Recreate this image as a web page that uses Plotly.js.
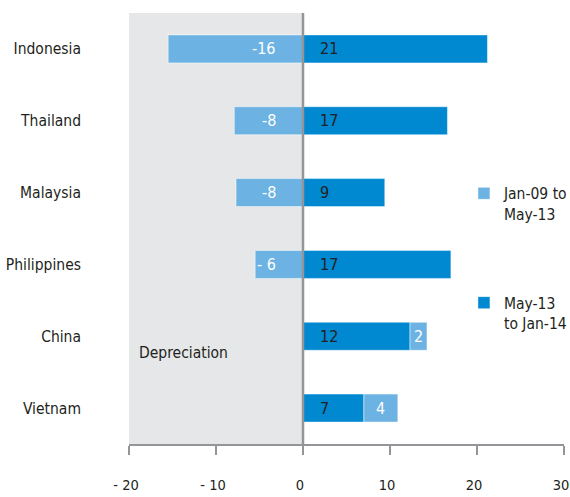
<!DOCTYPE html>
<html><head><meta charset="utf-8">
<script src="https://cdn.plot.ly/plotly-3.0.1.min.js"></script>
<style>html,body{margin:0;padding:0;background:#fff}#chart{width:570px;height:497px}</style>
</head><body><div id="chart"></div>
<script>
const countries = ["Indonesia","Thailand","Malaysia","Philippines","China","Vietnam"];
const lightVals = [-15.5,-7.9,-7.7,-5.5,1.95,3.9];
const darkVals = [21.2,16.6,9.4,17.0,12.3,7.0];
const lightLabels = ["-16","-8","-8","- 6","2","4"];
const darkLabels = ["21","17","9","17","12","7"];
const lightName = "Jan-09 to<br>May-13";
const darkName = "May-13<br>to Jan-14";
const xTickVals = [-20,-10,0,10,20,30];
const xTickText = ["- 20","- 10","0","10","20","30"];
const shadeRange = [-20, 0];

const FONT = "DejaVu Sans Condensed, Liberation Sans Narrow, sans-serif";
const FS = 15.5;
const TXT = "#231F20";
const LIGHT = "#6CB2E2";
const DARK = "#0088D1";
const AX = "#939598";

const traces = [
  {type:"bar", orientation:"h", name:darkName, legendgroup:"b", legendrank:2, y:countries, x:darkVals,
   marker:{color:DARK, line:{color:"rgba(255,255,255,0.45)", width:1}}, hoverinfo:"x+y"},
  {type:"bar", orientation:"h", name:lightName, legendgroup:"a", legendrank:1, y:countries, x:lightVals,
   marker:{color:LIGHT, line:{color:"rgba(255,255,255,0.5)", width:1}}, hoverinfo:"x+y"}
];

const annotations = [];
countries.forEach((c,i)=>{
  annotations.push({x:0, y:c, xref:"x", yref:"y", text:darkLabels[i], showarrow:false,
    xanchor:"left", xshift:15, font:{family:FONT, size:FS+0.5, color:TXT}});
  if (lightVals[i] < 0) {
    annotations.push({x:0, y:c, xref:"x", yref:"y", text:lightLabels[i], showarrow:false,
      xanchor:"right", xshift:-25, font:{family:FONT, size:FS+0.5, color:"#ffffff"}});
  } else {
    annotations.push({x:darkVals[i] + lightVals[i]/2, y:c, xref:"x", yref:"y", text:lightLabels[i], showarrow:false,
      xanchor:"center", font:{family:FONT, size:FS+0.5, color:"#ffffff"}});
  }
});
annotations.push({x:shadeRange[0], y:0.21, xref:"x", yref:"paper", text:"Depreciation", showarrow:false,
  xanchor:"left", yanchor:"middle", xshift:8, font:{family:FONT, size:FS, color:TXT}});

const layout = {
  width:570, height:497,
  margin:{l:129, r:6, t:13, b:53, autoexpand:false},
  paper_bgcolor:"#ffffff", plot_bgcolor:"rgba(0,0,0,0)",
  font:{family:FONT, size:FS, color:TXT},
  barmode:"relative", bargap:0.61,
  showlegend:true,
  legend:{x:0.77, y:0.62, xanchor:"left", yanchor:"top", traceorder:"grouped",
    tracegroupgap:66, valign:"top", bgcolor:"rgba(0,0,0,0)", font:{family:FONT, size:FS, color:TXT}},
  xaxis:{range:[-20,30], tickvals:xTickVals, ticktext:xTickText, showgrid:false, zeroline:false,
    showline:true, linecolor:AX, linewidth:2, ticks:"outside", ticklen:9, tickwidth:2, tickcolor:AX,
    tickfont:{family:FONT, size:14.5, color:TXT}, ticklabelstandoff:18, ticklabelshift:-3,
    ticklabeloverflow:"allow", fixedrange:true},
  yaxis:{type:"category", range:[5.5,-0.5], showgrid:false, zeroline:false, showline:false, ticks:"",
    tickfont:{family:FONT, size:FS, color:TXT}, ticklabelstandoff:47, fixedrange:true},
  shapes:[
    {type:"rect", xref:"x", yref:"paper", x0:shadeRange[0], x1:shadeRange[1], y0:0, y1:1.0,
     fillcolor:"#E6E7E9", line:{width:0}, layer:"below"},
    {type:"line", xref:"x", yref:"paper", x0:0, x1:0, y0:0, y1:1.0, line:{color:AX, width:2.5}, layer:"above"}
  ],
  annotations:annotations
};

Plotly.newPlot("chart", traces, layout, {displayModeBar:false, staticPlot:true});
</script></body></html>
